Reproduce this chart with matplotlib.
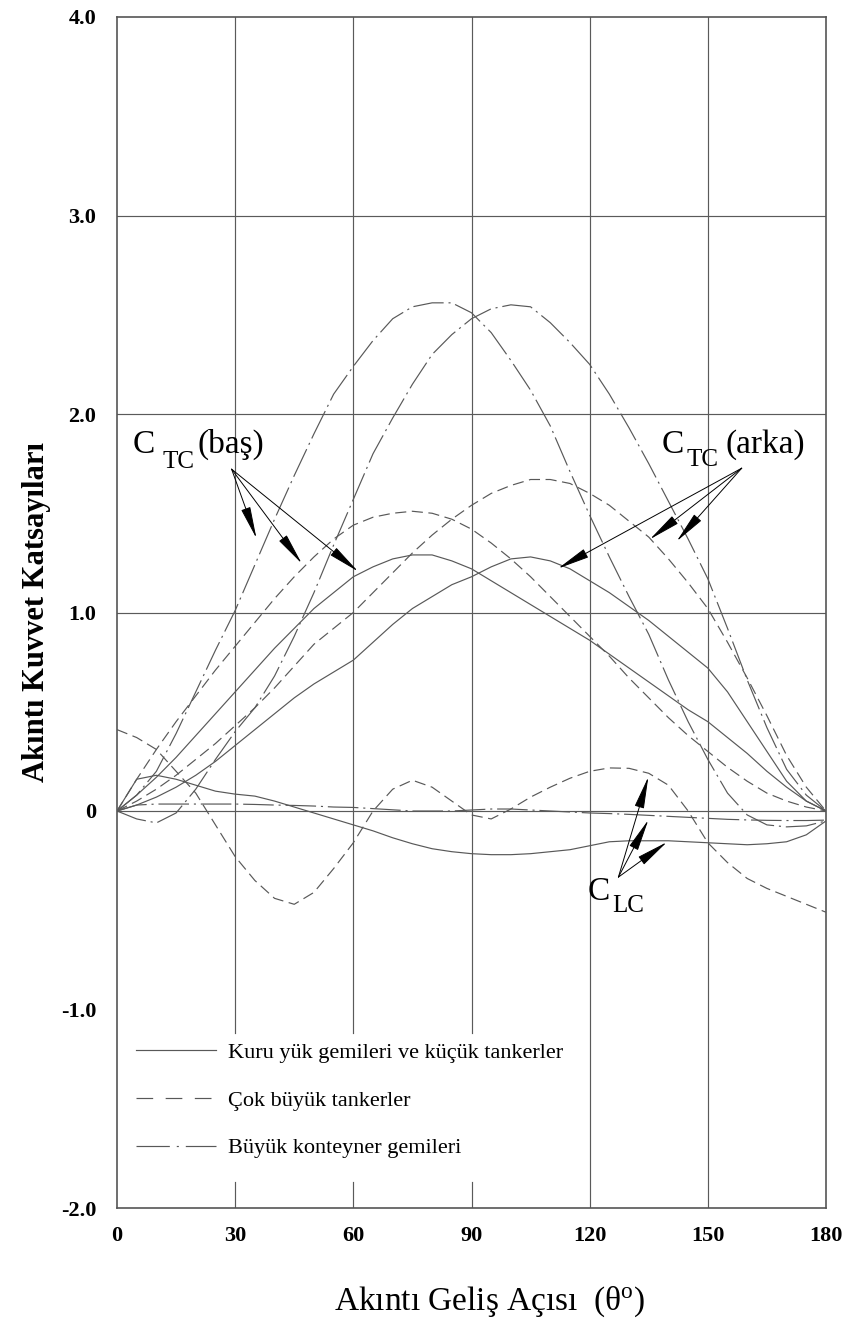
import matplotlib
matplotlib.use('Agg')
import matplotlib.pyplot as plt
from matplotlib.lines import Line2D

plt.rcParams['font.family'] = ['Liberation Serif', 'DejaVu Serif']
plt.rcParams['mathtext.fontset'] = 'custom'
plt.rcParams['mathtext.rm'] = 'Liberation Serif'
plt.rcParams['mathtext.it'] = 'Liberation Serif:italic'
plt.rcParams['lines.scale_dashes'] = False

# ---------------- data ----------------
angles = list(range(0, 181, 5))

# Dry cargo ships & small tankers (solid)
cargo_tc_bow = [0, 0.08, 0.17, 0.27, 0.38, 0.49, 0.60, 0.71, 0.82, 0.92, 1.02, 1.10, 1.18,
                1.23, 1.27, 1.29, 1.29, 1.26, 1.22, 1.16, 1.10, 1.04, 0.98, 0.92, 0.86,
                0.79, 0.72, 0.65, 0.58, 0.51, 0.45, 0.37, 0.29, 0.20, 0.12, 0.05, 0]
cargo_tc_stern = [0, 0.03, 0.07, 0.12, 0.18, 0.25, 0.33, 0.41, 0.49, 0.57, 0.64, 0.70, 0.76,
                  0.85, 0.94, 1.02, 1.08, 1.14, 1.18, 1.23, 1.27, 1.28, 1.26, 1.22, 1.16,
                  1.10, 1.03, 0.96, 0.88, 0.80, 0.72, 0.60, 0.45, 0.30, 0.15, 0.05, 0]
cargo_lc = [0, 0.16, 0.18, 0.16, 0.13, 0.10, 0.085, 0.075, 0.05, 0.02, -0.01, -0.04, -0.07,
            -0.10, -0.135, -0.165, -0.19, -0.205, -0.215, -0.22, -0.22, -0.215, -0.205,
            -0.195, -0.175, -0.155, -0.15, -0.15, -0.15, -0.155, -0.16, -0.165, -0.17,
            -0.165, -0.155, -0.12, -0.05]

# Very large tankers (dashed)
vlcc_tc_bow = [0, 0.16, 0.31, 0.45, 0.58, 0.71, 0.83, 0.95, 1.07, 1.18, 1.28, 1.37, 1.44,
               1.48, 1.50, 1.51, 1.50, 1.47, 1.42, 1.35, 1.27, 1.18, 1.08, 0.98, 0.88,
               0.78, 0.67, 0.57, 0.47, 0.38, 0.30, 0.22, 0.15, 0.09, 0.05, 0.02, 0]
vlcc_tc_stern = [0, 0.05, 0.11, 0.18, 0.26, 0.34, 0.43, 0.52, 0.62, 0.73, 0.84, 0.92, 1.00,
                 1.10, 1.20, 1.30, 1.39, 1.47, 1.54, 1.60, 1.64, 1.67, 1.67, 1.65, 1.60,
                 1.54, 1.46, 1.38, 1.27, 1.15, 1.02, 0.85, 0.67, 0.48, 0.28, 0.12, 0]
vlcc_lc = [0.41, 0.37, 0.31, 0.20, 0.09, -0.07, -0.23, -0.35, -0.44, -0.47, -0.41, -0.29,
           -0.16, 0.0, 0.11, 0.155, 0.12, 0.05, -0.02, -0.04, 0.01, 0.07, 0.12, 0.165,
           0.20, 0.217, 0.215, 0.19, 0.13, 0.0, -0.16, -0.26, -0.34, -0.39, -0.43, -0.47, -0.51]

# Large container ships (dash-dot)
cont_tc_bow = [0, 0.08, 0.20, 0.39, 0.60, 0.81, 1.01, 1.24, 1.47, 1.69, 1.90, 2.10, 2.24,
               2.37, 2.48, 2.54, 2.56, 2.56, 2.51, 2.41, 2.27, 2.12, 1.94, 1.71, 1.49,
               1.28, 1.08, 0.89, 0.66, 0.45, 0.26, 0.09, -0.02, -0.07, -0.08, -0.075, -0.05]
cont_tc_stern = [0, -0.04, -0.06, -0.01, 0.11, 0.26, 0.40, 0.52, 0.68, 0.88, 1.10, 1.34, 1.57,
                 1.80, 1.98, 2.15, 2.30, 2.40, 2.48, 2.53, 2.55, 2.54, 2.46, 2.36, 2.25,
                 2.10, 1.93, 1.75, 1.56, 1.37, 1.17, 0.92, 0.66, 0.42, 0.21, 0.08, 0]
cont_lc = [0, 0.03, 0.035, 0.035, 0.035, 0.035, 0.035, 0.033, 0.03, 0.028, 0.025, 0.02, 0.018,
           0.012, 0.006, 0.0, 0.0, 0.0, 0.005, 0.01, 0.01, 0.005, 0.0, -0.005, -0.01, -0.013,
           -0.017, -0.022, -0.027, -0.032, -0.037, -0.042, -0.045, -0.047, -0.048, -0.048, -0.046]

legend_labels = ['Kuru yük gemileri ve küçük tankerler',
                 'Çok büyük tankerler',
                 'Büyük konteyner gemileri']
x_ticks = [0, 30, 60, 90, 120, 150, 180]
y_ticks = [-2, -1, 0, 1, 2, 3, 4]
y_tick_labels = ['-2.0', '-1.0', '0', '1.0', '2.0', '3.0', '4.0']

# ---------------- styles ----------------
LC = '#585858'
GC = '#5a5a5a'
LW = 0.85
solid = dict(color=LC, lw=LW, ls='-')
dashed = dict(color=LC, lw=LW, ls=(0, (8, 4)))
dashdot = dict(color=LC, lw=LW, ls=(0, (22, 3.5, 1.5, 3.5)))

fig = plt.figure(figsize=(8.49, 13.26), dpi=100)
ax = fig.add_axes([117 / 849, 118 / 1326, 709 / 849, 1191 / 1326])
ax.set_xlim(0, 180)
ax.set_ylim(-2, 4)

# grid (vertical lines at 30/60/90 interrupted by the legend)
for x in [30, 60, 90]:
    ax.plot([x, x], [-2, -1.87], color=GC, lw=0.85, zorder=1)
    ax.plot([x, x], [-1.12, 4], color=GC, lw=0.85, zorder=1)
for x in [120, 150]:
    ax.plot([x, x], [-2, 4], color=GC, lw=0.85, zorder=1)
for y in [0, 1, 2, 3]:
    ax.axhline(y, color=GC, lw=0.85, zorder=1)

# curves
ax.plot(angles, cargo_tc_bow, **solid, zorder=3)
ax.plot(angles, cargo_tc_stern, **solid, zorder=3)
ax.plot(angles, cargo_lc, **solid, zorder=3)
ax.plot(angles, vlcc_tc_bow, **dashed, zorder=3)
ax.plot(angles, vlcc_tc_stern, **dashed, zorder=3)
ax.plot(angles, vlcc_lc, **dashed, zorder=3)
ax.plot(angles, cont_tc_bow, **dashdot, zorder=3)
ax.plot(angles, cont_tc_stern, **dashdot, zorder=3)
ax.plot(angles, cont_lc, **dashdot, zorder=3)

# spines / ticks
for s in ax.spines.values():
    s.set_color('#555555')
    s.set_linewidth(1.2)
ax.set_xticks(x_ticks)
ax.set_xticklabels([str(t) for t in x_ticks])
ax.set_yticks(y_ticks)
ax.set_yticklabels(y_tick_labels)
ax.tick_params(length=0, labelsize=16, colors='black')
ax.tick_params(axis='y', pad=15)
ax.tick_params(axis='x', pad=13)
for lab in ax.get_xticklabels() + ax.get_yticklabels():
    lab.set_fontweight('bold')

ax.set_xlabel('Akıntı Geliş Açısı  (θ$^{\\mathrm{o}}$)', fontsize=24, va='center')
ax.xaxis.set_label_coords(0.525, -0.079)
ax.set_ylabel('Akıntı Kuvvet Katsayıları', fontsize=22, fontweight='bold', va='center')
ax.yaxis.set_label_coords(-0.113, 0.5)

# legend
handles = [Line2D([], [], color=LC, lw=LW, ls='-'),
           Line2D([], [], color=LC, lw=LW, ls=(0, (12, 9))),
           Line2D([], [], color=LC, lw=LW, ls=(0, (24, 5, 1.5, 5)))]
ax.legend(handles, legend_labels, loc='upper left', bbox_to_anchor=(0.027, 0.139),
          frameon=False, fontsize=16, handlelength=3.6, handletextpad=0.55,
          labelspacing=1.22, borderpad=0, borderaxespad=0)

# annotations
TS = 24
ax.text(4.06, 1.803, 'C', fontsize=TS, ha='left', va='baseline')
ax.text(11.5, 1.727, 'TC', fontsize=18, ha='left', va='baseline')
ax.text(20.4, 1.803, '(baş)', fontsize=TS, ha='left', va='baseline')
ax.text(138.2, 1.803, 'C', fontsize=TS, ha='left', va='baseline')
ax.text(144.6, 1.737, 'TC', fontsize=18, ha='left', va='baseline')
ax.text(154.4, 1.803, '(arka)', fontsize=TS, ha='left', va='baseline')
ax.text(119.6, -0.45, 'C', fontsize=TS, ha='left', va='baseline')
ax.text(125.7, -0.51, 'LC', fontsize=18, ha='left', va='baseline')

aprops = dict(arrowstyle='-|>,head_length=2.0,head_width=0.3', color='black',
              lw=0.7, shrinkA=0, shrinkB=0)
for tip in [(35.4, 1.374), (46.9, 1.247), (61.2, 1.207)]:
    ax.annotate('', xy=tip, xytext=(29.1, 1.722), arrowprops=aprops, zorder=5)
for tip in [(112.0, 1.222), (135.3, 1.369), (142.1, 1.359)]:
    ax.annotate('', xy=tip, xytext=(158.6, 1.727), arrowprops=aprops, zorder=5)
for tip in [(134.9, 0.172), (134.9, -0.045), (139.6, -0.157)]:
    ax.annotate('', xy=tip, xytext=(127.3, -0.333), arrowprops=aprops, zorder=5)

fig.savefig('out.png', dpi=100)
